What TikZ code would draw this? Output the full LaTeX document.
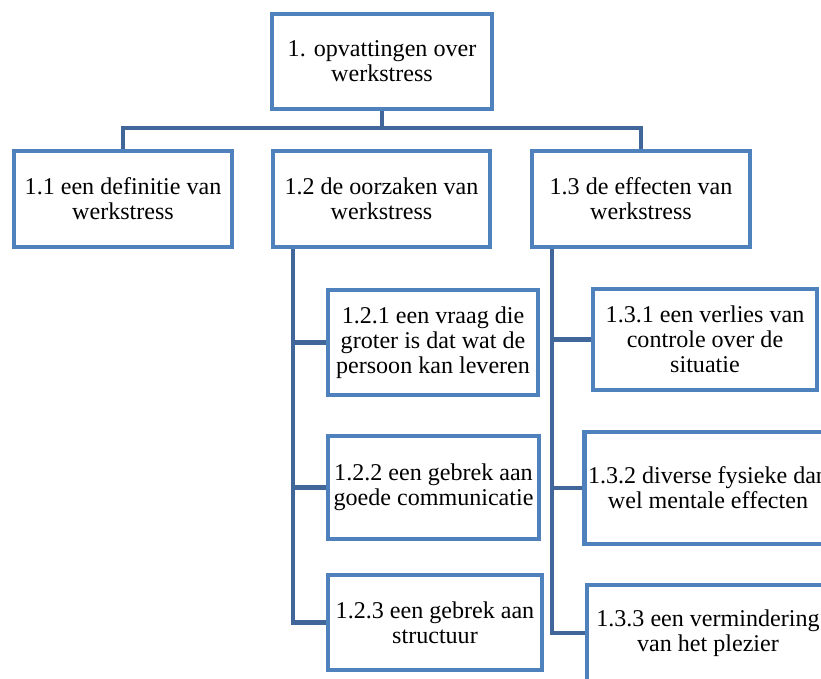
\documentclass[tikz,border=0pt]{standalone}
\usepackage{fontspec}
\usepackage{tikz}
\definecolor{boxline}{HTML}{4F81BD}
\definecolor{linkline}{HTML}{41679A}

\begin{document}
\begin{tikzpicture}[
  topic/.style={rectangle, draw=boxline, line width=2.3pt, fill=white,
                align=center, inner sep=2pt,
                font=\fontspec{Liberation Serif}\fontsize{13.7}{14.1}\selectfont},
  link/.style={draw=linkline, line width=2.8pt},
]
\useasboundingbox (0,0) rectangle (16.42,-13.58);

\coordinate (bar) at (7.64,-2.56);

\draw[link] (7.64,-1.23) -- (bar);
\draw[link] (bar) -| (2.46,-3.98);
\draw[link] (bar) -| (12.82,-3.98);

\node[topic, minimum width=4.4cm, minimum height=1.9cm] (root) at (7.64,-1.23)
  {1. opvattingen over\\werkstress};

\node[topic, minimum width=4.36cm, minimum height=1.92cm] (b11) at (2.46,-3.98)
  {1.1 een definitie van\\werkstress};
\node[topic, minimum width=4.34cm, minimum height=1.92cm] (b12) at (7.63,-3.98)
  {1.2 de oorzaken van\\werkstress};
\node[topic, minimum width=4.36cm, minimum height=1.92cm] (b13) at (12.82,-3.98)
  {1.3 de effecten van\\werkstress};

\node[topic, minimum width=4.2cm, minimum height=2.1cm] (b121) at (8.66,-6.85)
  {1.2.1 een vraag die\\groter is dat wat de\\persoon kan leveren};
\node[topic, minimum width=4.22cm, minimum height=2.06cm] (b122) at (8.67,-9.75)
  {1.2.2 een gebrek aan\\goede communicatie};
\node[topic, minimum width=4.28cm, minimum height=1.9cm] (b123) at (8.70,-12.45)
  {1.2.3 een gebrek aan\\structuur};

\node[topic, minimum width=4.48cm, minimum height=2.02cm] (b131) at (14.10,-6.79)
  {1.3.1 een verlies van\\controle over de\\situatie};
\node[topic, minimum width=4.84cm, minimum height=2.24cm] (b132) at (14.16,-9.76)
  {1.3.2 diverse fysieke dan\\wel mentale effecten};
\node[topic, minimum width=4.84cm, minimum height=1.92cm] (b133) at (14.16,-12.66)
  {1.3.3 een vermindering\\van het plezier};

\draw[link] ([xshift=0.44cm]b12.south west) |- (b121.west);
\draw[link] ([xshift=0.44cm]b12.south west) |- (b122.west);
\draw[link] ([xshift=0.44cm]b12.south west) |- (b123.west);

\draw[link] ([xshift=0.44cm]b13.south west) |- (b131.west);
\draw[link] ([xshift=0.44cm]b13.south west) |- (b132.west);
\draw[link] ([xshift=0.44cm]b13.south west) |- (b133.west);

\end{tikzpicture}
\end{document}
